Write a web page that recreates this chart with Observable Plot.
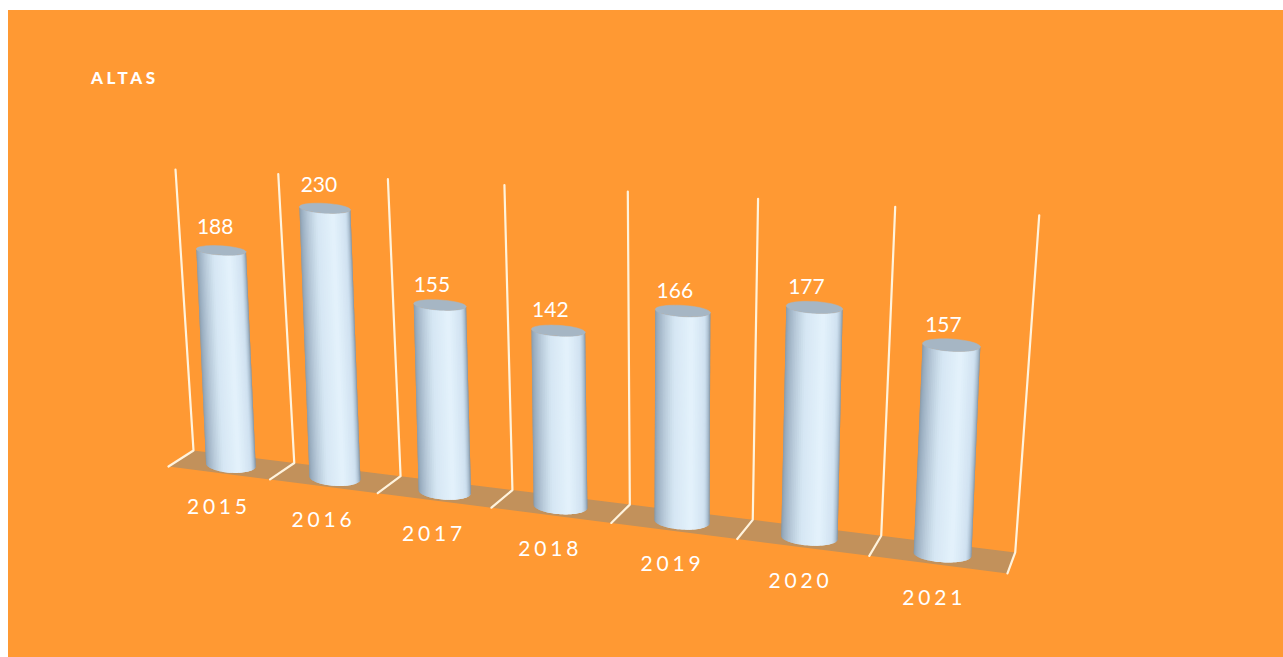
<!DOCTYPE html>
<html>
<head>
<meta charset="utf-8">
<script src="https://cdn.jsdelivr.net/npm/d3@7"></script>
<script src="https://cdn.jsdelivr.net/npm/@observablehq/plot@0.6"></script>
<style>
  html, body { margin: 0; padding: 0; background: #fff; overflow: hidden; }
  #panel { position: absolute; left: 8px; top: 10px; right: 0; height: 647px; background: #ff9933; }
  #title { position: absolute; left: 91px; top: 67px; font: 900 17px Lato, sans-serif; letter-spacing: 3.6px; color: #fff; }
  #chart { position: absolute; left: 0; top: 0; }
  .yr text { letter-spacing: 3.8px; }
</style>
</head>
<body>
<div id="panel"></div>
<div id="chart"></div>
<div id="title">ALTAS</div>
<script>
const years = [2015, 2016, 2017, 2018, 2019, 2020, 2021];
const altas = [188, 230, 155, 142, 166, 177, 157];
const axisMax = 250;

// Oblique view of the 3D chart: slot along the floor, depth across it, value upward.
function project(u, d, v) {
  const xb = 193 + 98 * u + 2.77 * u * u;
  const xf = 168 + 98.5 * u + 3.05 * u * u;
  const yb = 450 + 0.124 * (xb - 193);
  const yf = 466 + 0.1275 * (xf - 168);
  const h = (281 + 8 * u) * v / axisMax;
  const lean = (-18 + 1.33 * u + 0.667 * u * u) * v / axisMax * (1 - 0.5 * d);
  return {x: xb + (xf - xb) * d + lean, y: yb + (yf - yb) * d - h};
}
const slots = d3.range(years.length + 1);

const floor = [...slots.map((k) => project(k, 0, 0)), ...slots.slice().reverse().map((k) => project(k, 1, 0))];
const grid = slots.flatMap((k) => [project(k, 0, axisMax), project(k, 0, 0), project(k, 1, 0)].map((p) => ({...p, k})));

const shade = d3.piecewise(d3.interpolateRgb, ["#7f95a9", "#a6b9ca", "#d5e6f3", "#e4f2fc", "#cfe1f0", "#71879c"]);
const steps = 40;
const strips = [], tops = [];
years.forEach((yr, i) => {
  const u = i + 0.5, v = altas[i];
  const r = 24.5 + 0.67 * u;
  const base = project(u, 0.5, 0), top = project(u, 0.5, v);
  const ryB = 8, ryT = 4.5 + 0.25 * u;
  const at = (c, ry, a) => ({x: c.x + r * Math.cos(a), y: c.y + ry * Math.sin(a) + 0.06 * r * Math.cos(a)});
  for (let s = 0; s < steps; ++s) {
    // each strip runs under the next one so that no seams show between them
    const a0 = Math.PI * (1 - s / steps), a1 = Math.PI * (1 - Math.min(s + 2, steps) / steps);
    const aMid = Math.PI * (1 - (s + 1) / steps);
    const fill = shade((s + 0.5) / steps), key = `${yr}-${s}`;
    [at(top, ryT, a0), at(top, ryT, aMid), at(top, ryT, a1), at(base, ryB, a1), at(base, ryB, aMid), at(base, ryB, a0)]
      .forEach((p) => strips.push({...p, key, fill}));
  }
  d3.range(0, 49).forEach((s) => tops.push({...at(top, ryT, s / 48 * 2 * Math.PI), key: yr}));
});

const valueLabels = years.map((yr, i) => {
  const p = project(i + 0.5, 0.5, altas[i]);
  return {x: p.x + (i < 2 ? -6 : -8), y: p.y - (i < 2 ? 23 : 20), text: String(altas[i])};
});
const yearLabels = years.map((yr, i) => {
  const p = project(i + 0.5, 0.5, 0);
  return {x: p.x - 12 + 0.6 * i, y: p.y + 42 + 0.3 * i, text: String(yr)};
});

const chart = Plot.plot({
  width: 1283, height: 657,
  margin: 0,
  x: {type: "linear", domain: [0, 1283], range: [0, 1283], axis: null},
  y: {type: "linear", domain: [0, 657], range: [0, 657], axis: null},
  style: {background: "transparent"},
  marks: [
    Plot.line(floor, {x: "x", y: "y", fill: "#c2915b", stroke: "none", curve: "linear-closed"}),
    Plot.line(grid, {x: "x", y: "y", z: "k", stroke: "#fff3dd", strokeWidth: 2.2, strokeLinejoin: "round"}),
    Plot.line(strips, {x: "x", y: "y", z: "key", fill: "fill", stroke: "none", curve: "linear-closed"}),
    Plot.line(tops, {x: "x", y: "y", z: "key", fill: "#a6b6c4", stroke: "#a6b6c4", strokeWidth: 0.5}),
    Plot.text(valueLabels, {x: "x", y: "y", text: "text", fill: "#fff", fontSize: 21, fontFamily: "Lato, sans-serif"}),
    Plot.text(yearLabels, {x: "x", y: "y", text: "text", fill: "#fff", fontSize: 21, fontFamily: "Lato, sans-serif", className: "yr"})
  ]
});
document.getElementById("chart").append(chart);
</script>
</body>
</html>
